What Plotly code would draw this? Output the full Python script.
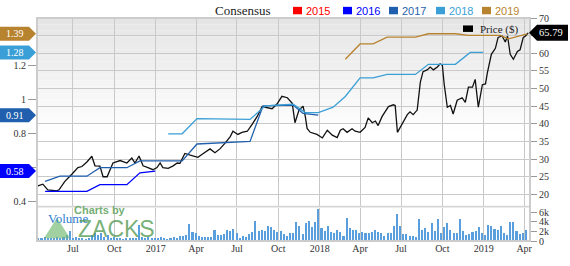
import plotly.graph_objects as go
import pandas as pd

# ---------------- data ----------------
price_dates = [
    "2016-04-14", "2016-04-25", "2016-05-06", "2016-05-26", "2016-05-31", "2016-06-13", "2016-06-29",
    "2016-07-12", "2016-07-21", "2016-08-01", "2016-08-12", "2016-08-19", "2016-08-30", "2016-09-06",
    "2016-09-15", "2016-09-28", "2016-10-14", "2016-10-29", "2016-11-09", "2016-11-16", "2016-11-25",
    "2016-12-04", "2016-12-15", "2016-12-26", "2017-01-04", "2017-01-11", "2017-01-17", "2017-01-29",
    "2017-02-09", "2017-02-18", "2017-02-24", "2017-03-07", "2017-03-19", "2017-04-05", "2017-04-17",
    "2017-05-02", "2017-05-13", "2017-05-24", "2017-06-05", "2017-06-16", "2017-06-22", "2017-07-03",
    "2017-07-12", "2017-07-24", "2017-08-04", "2017-08-15", "2017-08-26", "2017-09-06", "2017-09-17",
    "2017-09-28", "2017-10-09", "2017-10-21", "2017-11-01", "2017-11-07", "2017-11-16", "2017-11-25",
    "2017-11-30", "2017-12-04", "2017-12-11", "2017-12-26", "2018-01-07", "2018-01-18", "2018-01-29",
    "2018-02-09", "2018-02-16", "2018-02-22", "2018-03-03", "2018-03-14", "2018-03-21", "2018-04-01",
    "2018-04-12", "2018-04-19", "2018-04-28", "2018-05-05", "2018-05-11", "2018-05-20", "2018-05-27",
    "2018-06-03", "2018-06-14", "2018-06-18", "2018-06-23", "2018-07-04", "2018-07-15", "2018-07-21",
    "2018-07-28", "2018-08-06", "2018-08-13", "2018-08-19", "2018-08-28", "2018-09-04", "2018-09-11",
    "2018-09-20", "2018-09-26", "2018-10-01", "2018-10-05", "2018-10-12", "2018-10-19", "2018-10-25",
    "2018-11-03", "2018-11-14", "2018-11-21", "2018-11-28", "2018-12-07", "2018-12-13", "2018-12-20",
    "2018-12-29", "2019-01-05", "2019-01-09", "2019-01-18", "2019-01-27", "2019-02-02", "2019-02-11",
    "2019-02-18", "2019-02-23", "2019-03-01", "2019-03-08", "2019-03-17", "2019-03-23", "2019-03-30",
    "2019-04-04", "2019-04-10",
]
price_values = [
    22.4, 22.9, 21.3, 21.0, 21.3, 23.7, 25.8,
    27.6, 27.9, 29.2, 30.8, 28.1, 28.0, 25.0,
    25.0, 28.9, 29.6, 28.9, 30.3, 28.9, 30.9,
    28.1, 27.6, 27.0, 27.6, 28.9, 27.6, 27.4,
    28.1, 28.9, 28.8, 31.6, 31.1, 30.5, 31.6,
    32.9, 31.8, 32.9, 34.6, 36.4, 37.9, 37.0,
    37.6, 37.9, 39.9, 42.1, 44.9, 44.7, 44.3,
    45.6, 47.8, 47.4, 45.8, 40.3, 43.9, 45.0,
    42.1, 38.7, 37.6, 37.0, 36.0, 38.2, 36.8,
    36.1, 38.2, 38.6, 37.6, 38.6, 37.9, 37.6,
    39.0, 41.7, 40.3, 40.8, 39.5, 42.1, 43.4,
    44.9, 45.4, 45.2, 37.6, 40.3, 42.6, 43.4,
    42.6, 43.9, 51.8, 54.8, 55.3, 56.1, 55.3,
    56.1, 57.0, 56.6, 51.3, 44.7, 45.2, 42.8,
    46.7, 47.4, 46.1, 50.4, 50.4, 52.6, 44.7,
    51.1, 51.3, 54.4, 59.7, 61.4, 64.5, 64.9,
    63.2, 64.9, 59.7, 58.3, 60.5, 61.0, 64.5,
    64.9, 65.79,
]

eps2016_dates = ["2016-04-30", "2016-08-01", "2016-08-30", "2016-10-29", "2016-11-27", "2016-12-31"]
eps2016 = [0.46, 0.46, 0.50, 0.50, 0.57, 0.58]

eps2017_dates = ["2016-04-30", "2016-06-02", "2016-08-01", "2016-08-30", "2016-10-29", "2016-11-27",
                 "2017-03-01", "2017-04-03", "2017-07-30", "2017-08-28", "2017-11-03", "2017-11-25",
                 "2017-12-29"]
eps2017 = [0.52, 0.55, 0.55, 0.60, 0.60, 0.64, 0.64, 0.74, 0.755, 0.965, 0.97, 0.92, 0.91]

eps2018_dates = ["2017-01-29", "2017-03-01", "2017-04-03", "2017-07-30", "2017-09-02", "2017-11-03",
                 "2017-11-30", "2017-12-29", "2018-01-31", "2018-02-27", "2018-04-01", "2018-04-30",
                 "2018-05-31", "2018-08-02", "2018-08-31", "2018-10-30", "2018-12-02", "2018-12-31"]
eps2018 = [0.80, 0.80, 0.89, 0.885, 0.965, 0.975, 0.925, 0.925, 0.957, 1.02, 1.13, 1.13,
           1.15, 1.15, 1.21, 1.21, 1.28, 1.28]

eps2019_dates = ["2018-02-27", "2018-04-01", "2018-04-30", "2018-05-31", "2018-08-02", "2018-08-31",
                 "2018-10-30", "2018-11-28", "2019-02-07", "2019-02-25", "2019-04-08"]
eps2019 = [1.24, 1.33, 1.33, 1.37, 1.37, 1.39, 1.39, 1.38, 1.38, 1.36, 1.39]

volume_start = "2016-04-15"
volume_k = [
    0.7, 0.7, 0.9, 0.7, 0.8, 0.7, 1.0, 0.8, 1.0, 1.3,
    2.2, 0.8, 1.0, 0.7, 0.7, 0.5, 0.8, 1.3, 1.7, 1.3,
    1.7, 1.0, 1.3, 0.8, 1.0, 0.8, 0.7, 0.5, 0.7, 0.8,
    0.8, 0.7, 3.5, 1.0, 0.8, 0.9, 0.7, 0.8, 0.7, 1.0,
    0.7,
    0.5, 0.7, 1.0, 0.8, 1.1, 1.1, 1.3, 3.6, 1.9, 1.7,
    1.2, 0.9, 0.9, 0.9, 1.0, 2.5, 1.3, 1.3, 1.5, 2.5,
    2.1, 2.6, 1.7, 0.7, 1.2, 1.0, 1.5, 2.0, 4.3, 2.1,
    2.5, 2.1, 3.3, 3.0, 2.5, 2.0, 2.1, 1.5, 1.1, 1.8,
    1.8,
    4.0, 3.2, 1.5, 3.8, 4.3, 3.0, 4.0, 6.7, 2.8, 2.1,
    3.2, 2.0, 1.7, 2.5, 2.0, 1.1, 5.0, 2.8, 2.5, 2.3,
    1.7, 1.9, 1.7, 1.7, 1.9, 2.5, 1.9, 1.7, 1.2, 1.8,
    1.7, 3.2, 5.7, 3.2, 1.5, 1.5, 1.2, 1.2, 1.0, 4.8,
    2.5, 2.8,
    1.9, 3.9, 2.1, 4.8, 1.7, 3.1, 3.9, 2.3, 1.8, 1.7,
    4.7, 2.2, 1.3, 1.5, 1.9, 2.1, 3.1, 1.7, 1.3, 3.5,
    3.3, 2.7, 2.3, 3.3, 1.7, 1.3, 4.1, 4.1, 2.1, 1.5,
    1.7, 2.3,
]
volume_dates = pd.date_range(volume_start, periods=len(volume_k), freq="7D")

x_tick_dates = ["2016-07-01", "2016-10-01", "2017-01-01", "2017-04-01", "2017-07-01", "2017-10-01",
                "2018-01-01", "2018-04-01", "2018-07-01", "2018-10-01", "2019-01-01", "2019-04-01"]
x_tick_labels = ["Jul", "Oct", "2017", "Apr", "Jul", "Oct", "2018", "Apr", "Jul", "Oct", "2019", "Apr"]
price_ticks = [20, 25, 30, 35, 40, 45, 50, 55, 60, 65, 70]
# "65" sits under the price tag in the reference, so it is not shown
price_tick_labels = ["20", "25", "30", "35", "40", "45", "50", "55", "60", "", "70"]
eps_ticks = [0.4, 0.6, 0.8, 1.0, 1.2]
# "0.6" sits under the 2016 tag in the reference
eps_tick_labels = ["0.4", "", "0.8", "1", "1.2"]
vol_ticks = [0, 2, 4, 6]
vol_tick_labels = ["0", "2k", "4k", "6k"]

legend_years = ["2015", "2016", "2017", "2018", "2019"]
colors = {"2015": "#ff0000", "2016": "#0000ff", "2017": "#1f5fad", "2018": "#3a9fd6", "2019": "#b8832f"}

# ---------------- layout helpers ----------------
W, H = 570, 266
ML, MR, MT, MB = 37, 40, 14, 12
PW, PH = W - ML - MR, H - MT - MB


def px2x(px):
    return (px - ML) / PW


def px2y(py):
    return (H - MB - py) / PH


SERIF = "Liberation Serif"
SANS = "Liberation Sans"
TXT = "#333333"

fig = go.Figure()

fig.add_trace(go.Bar(x=volume_dates, y=volume_k, xaxis="x2", yaxis="y3",
                     marker=dict(color="#5a9fdd", line=dict(width=0)),
                     width=4.6 * 86400000, showlegend=False))

for yr, dts, vals in [("2016", eps2016_dates, eps2016), ("2017", eps2017_dates, eps2017),
                      ("2018", eps2018_dates, eps2018), ("2019", eps2019_dates, eps2019)]:
    fig.add_trace(go.Scatter(x=dts, y=vals, xaxis="x", yaxis="y2", mode="lines",
                             line=dict(color=colors[yr], width=1.3), showlegend=False))

fig.add_trace(go.Scatter(x=price_dates, y=price_values, xaxis="x", yaxis="y", mode="lines",
                         line=dict(color="#111111", width=1.3), showlegend=False))

main_bottom = px2y(216)
vol_top = px2y(218)
xrange_ = ["2016-04-12", "2019-04-14"]

fig.update_layout(
    width=W, height=H,
    margin=dict(l=ML, r=MR, t=MT, b=MB),
    paper_bgcolor="white", plot_bgcolor="rgba(0,0,0,0)",
    showlegend=False,
    bargap=0,
    xaxis=dict(domain=[0, 1], range=xrange_, anchor="y", type="date",
               tickvals=x_tick_dates, showticklabels=False, ticks="",
               showgrid=True, gridcolor="#c9c9c9", gridwidth=1, zeroline=False),
    xaxis2=dict(domain=[0, 1], range=xrange_, anchor="y3", type="date", matches="x",
                tickvals=x_tick_dates, ticktext=x_tick_labels, ticks="",
                tickfont=dict(family=SERIF, size=10, color=TXT),
                showgrid=True, gridcolor="#c9c9c9", gridwidth=1, zeroline=False),
    yaxis=dict(domain=[main_bottom, 1], range=[16.8, 70], side="right", anchor="x",
               tickvals=price_ticks, ticktext=price_tick_labels, ticks="outside", ticklen=6,
               tickcolor="#999999", tickfont=dict(family=SERIF, size=10, color=TXT),
               showgrid=True, gridcolor="#c9c9c9", gridwidth=1, zeroline=False),
    yaxis2=dict(range=[0.376, 1.483], overlaying="y", side="left", anchor="x",
                tickvals=eps_ticks, ticktext=eps_tick_labels, ticks="outside", ticklen=8,
                tickcolor="#999999", tickfont=dict(family=SERIF, size=10, color=TXT),
                showgrid=False, zeroline=False),
    yaxis3=dict(domain=[0, vol_top], range=[0, 7], side="right", anchor="x2",
                tickvals=vol_ticks, ticktext=vol_tick_labels, ticks="outside", ticklen=6,
                tickcolor="#999999", tickfont=dict(family=SERIF, size=10, color=TXT),
                showgrid=False, zeroline=False),
)

shapes = []
# background gradient on main panel
n_bands = 18
g_top = px2y(MT)
g_bot = px2y(135)
for i in range(n_bands):
    y1 = g_top - (g_top - g_bot) * i / n_bands
    y0 = g_top - (g_top - g_bot) * (i + 1) / n_bands
    c = int(229 + (255 - 229) * (i + 0.5) / n_bands)
    shapes.append(dict(type="rect", xref="paper", yref="paper", x0=0, x1=1, y0=y0, y1=y1,
                       fillcolor=f"rgb({c},{c},{c})", line=dict(width=0), layer="below"))
# separator band between panels
shapes.append(dict(type="rect", xref="paper", yref="paper", x0=0, x1=1, y0=vol_top, y1=main_bottom,
                   fillcolor="#d6d6d6", line=dict(width=0), layer="above"))
# frame
shapes.append(dict(type="rect", xref="paper", yref="paper", x0=0, x1=1, y0=0, y1=1,
                   line=dict(color="#cccccc", width=2), layer="above"))

# ZACKS watermark triangle
shapes.append(dict(type="path", xref="paper", yref="paper",
                   path=f"M {px2x(44)} {px2y(251)} L {px2x(57)} {px2y(229)} L {px2x(70)} {px2y(251)} Z",
                   fillcolor="rgba(110,185,110,0.65)", line=dict(width=0), layer="above"))

annotations = []
# left EPS tags
for yr, vals in [("2019", eps2019), ("2018", eps2018), ("2017", eps2017), ("2016", eps2016)]:
    v = vals[-1]
    shapes.append(dict(type="path", xref="paper", yref="y2", xsizemode="pixel", ysizemode="pixel",
                       xanchor=0, yanchor=v,
                       path="M -37 7 L -8 7 L -1 0 L -8 -7 L -37 -7 Z",
                       fillcolor=colors[yr], line=dict(width=0), layer="above"))
    annotations.append(dict(xref="paper", yref="y2", x=0, y=v, xshift=-22, text=f"{v:.2f}",
                            showarrow=False, xanchor="center", yanchor="middle",
                            font=dict(family=SERIF, size=10, color="white")))
# price tag
last_price = price_values[-1]
shapes.append(dict(type="path", xref="paper", yref="y", xsizemode="pixel", ysizemode="pixel",
                   xanchor=1, yanchor=last_price,
                   path="M -1 0 L 7 8 L 38 8 L 38 -8 L 7 -8 Z",
                   fillcolor="#000000", line=dict(width=0), layer="above"))
annotations.append(dict(xref="paper", yref="y", x=1, y=last_price, xshift=21, text=f"{last_price:.2f}",
                        showarrow=False, xanchor="center", yanchor="middle",
                        font=dict(family=SERIF, size=10.5, color="white")))

# Price ($) legend
shapes.append(dict(type="rect", xref="paper", yref="paper", x0=px2x(463), x1=px2x(473),
                   y0=px2y(29), y1=px2y(22), fillcolor="#000000", line=dict(width=0), layer="above"))
annotations.append(dict(xref="paper", yref="paper", x=px2x(478), y=px2y(26), text="Price ($)",
                        showarrow=False, xanchor="left", yanchor="middle",
                        font=dict(family=SERIF, size=11, color="#222222")))

# Consensus legend
annotations.append(dict(xref="paper", yref="paper", x=px2x(213), y=px2y(6), text="Consensus",
                        showarrow=False, xanchor="left", yanchor="middle",
                        font=dict(family=SERIF, size=13, color="#222222")))
sq_left = {"2015": 293, "2016": 343, "2017": 389, "2018": 436, "2019": 482}
for yr in legend_years:
    sx = sq_left[yr]
    shapes.append(dict(type="rect", xref="paper", yref="paper", x0=px2x(sx), x1=px2x(sx + 9),
                       y0=px2y(10), y1=px2y(2), fillcolor=colors[yr], line=dict(width=0)))
    annotations.append(dict(xref="paper", yref="paper", x=px2x(sx + 11), y=px2y(6), text=yr,
                            showarrow=False, xanchor="left", yanchor="middle",
                            font=dict(family=SANS, size=11, color=colors[yr])))

# Volume + watermark texts
annotations.append(dict(xref="paper", yref="paper", x=px2x(46), y=px2y(230), text="Volume",
                        showarrow=False, xanchor="left", yanchor="middle",
                        font=dict(family=SERIF, size=13, color="#2f7fcf")))
annotations.append(dict(xref="paper", yref="paper", x=px2x(72), y=px2y(221), text="<b>Charts by</b>",
                        showarrow=False, xanchor="left", yanchor="middle",
                        font=dict(family=SANS, size=11, color="rgba(90,160,90,0.85)")))
annotations.append(dict(xref="paper", yref="paper", x=px2x(76), y=px2y(241), text="ZACKS",
                        showarrow=False, xanchor="left", yanchor="middle",
                        font=dict(family=SANS, size=23, color="rgba(75,150,75,0.75)")))

fig.update_layout(shapes=shapes, annotations=annotations)

fig.write_html("out.html")
